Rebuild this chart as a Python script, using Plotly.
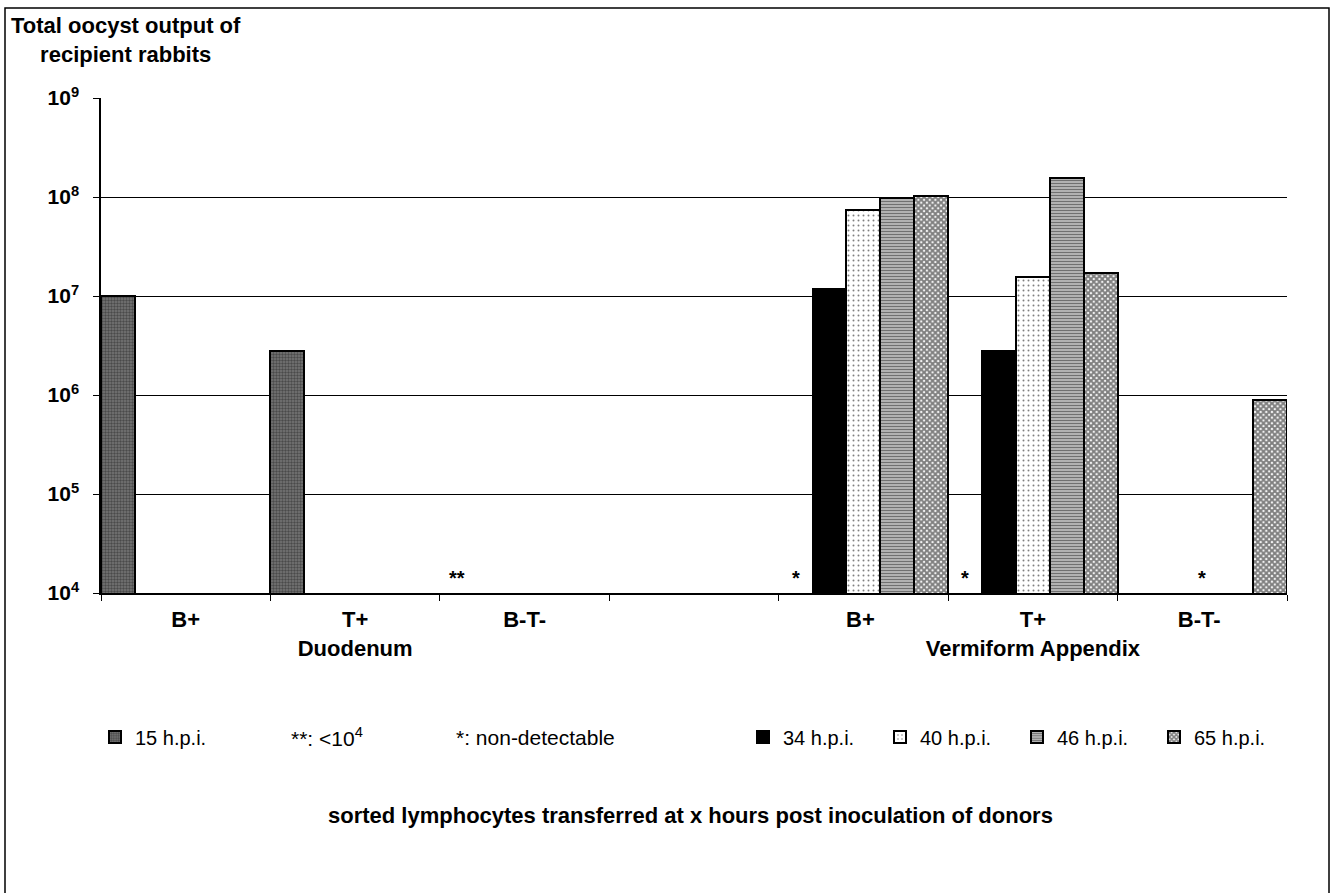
import plotly.graph_objects as go

# ---- data ----
categories = ["B+", "T+<br>Duodenum", "B-T-", " ", "B+ ", "T+<br>Vermiform Appendix", "B-T- "]
series_names = ["15 h.p.i.", "34 h.p.i.", "40 h.p.i.", "46 h.p.i.", "65 h.p.i."]
hpi15 = [1.0e7, 2.8e6, None, None, None, None, None]
hpi34 = [None, None, None, None, 1.18e7, 2.8e6, None]
hpi40 = [None, None, None, None, 7.4e7, 1.55e7, None]
hpi46 = [None, None, None, None, 9.8e7, 1.55e8, None]
hpi65 = [None, None, None, None, 1.03e8, 1.7e7, 8.9e5]
# (category index, series index, mark)
notes = [(2, 0, "**"), (4, 0, "*"), (5, 0, "*"), (6, 2, "*")]
ytick_exps = [4, 5, 6, 7, 8, 9]

FONT = "Liberation Sans, Arial, sans-serif"
W, H = 1331, 893
L, R, T, B = 101, 44, 98, 300
PW, PH = W - L - R, H - T - B

def px(x):
    return (x - L) / PW

def py(y):
    return (T + PH - y) / PH

styles = [
    dict(color="#5a5a5a", pattern=dict(shape=".", fgcolor="#1e1e1e", bgcolor="#777777", size=3, solidity=0.5)),
    dict(color="black"),
    dict(color="white", pattern=dict(shape=".", fgcolor="#000000", bgcolor="#ffffff", size=5, solidity=0.12)),
    dict(color="#cccccc", pattern=dict(shape="-", fgcolor="#111111", bgcolor="#d0d0d0", size=3, solidity=0.55)),
    dict(color="#666666", pattern=dict(shape="x", fgcolor="#000000", bgcolor="#ffffff", size=4, solidity=0.75)),
]

fig = go.Figure()
for i, (name, vals) in enumerate(zip(series_names, [hpi15, hpi34, hpi40, hpi46, hpi65])):
    st = styles[i]
    marker = dict(color=st["color"], line=dict(color="black", width=2))
    if "pattern" in st:
        marker["pattern"] = st["pattern"]
    fig.add_trace(go.Bar(
        x=categories, y=vals, name=name, marker=marker,
        legend="legend" if i == 0 else "legend2", showlegend=True,
    ))

for ci, si, txt in notes:
    fig.add_annotation(x=ci + (si - 2) * 0.2, y=4, yref="y", xref="x", text="<b>" + txt + "</b>",
                       showarrow=False, yanchor="bottom", yshift=2,
                       font=dict(family=FONT, size=20, color="black"))

# title
fig.add_annotation(xref="paper", yref="paper", x=px(126), y=py(40), text="<b>Total oocyst output of<br>recipient rabbits</b>",
                   showarrow=False, align="center", xanchor="center", yanchor="middle",
                   font=dict(family=FONT, size=22, color="black"))
# legend text notes
LEG_Y = 737
fig.add_annotation(xref="paper", yref="paper", x=px(289), y=py(LEG_Y), text="**: <10<sup>4</sup>",
                   showarrow=False, xanchor="left", yanchor="middle",
                   font=dict(family=FONT, size=21, color="black"))
fig.add_annotation(xref="paper", yref="paper", x=px(454), y=py(LEG_Y), text="*: non-detectable",
                   showarrow=False, xanchor="left", yanchor="middle",
                   font=dict(family=FONT, size=21, color="black"))
# bottom caption
fig.add_annotation(xref="paper", yref="paper", x=px(690), y=py(815),
                   text="<b>sorted lymphocytes transferred at x hours post inoculation of donors</b>",
                   showarrow=False, xanchor="center", yanchor="middle",
                   font=dict(family=FONT, size=22, color="black"))

# outer frame
fig.add_shape(type="rect", xref="paper", yref="paper", x0=px(5), x1=px(1329), y0=py(905), y1=py(8),
              line=dict(color="black", width=1.5), fillcolor="rgba(0,0,0,0)", layer="above")

fig.update_layout(
    width=W, height=H,
    margin=dict(l=L, r=R, t=T, b=B, autoexpand=False),
    paper_bgcolor="white", plot_bgcolor="white",
    barmode="group", bargap=0, bargroupgap=0,
    showlegend=True,
    font=dict(family=FONT, size=20, color="black"),
    xaxis=dict(
        type="category", categoryorder="array", categoryarray=categories,
        showline=True, linecolor="black", linewidth=1.5,
        ticks="outside", tickson="boundaries", ticklen=6, tickcolor="black",
        showgrid=False, tickangle=0, automargin=False,
        tickfont=dict(family=FONT, size=22, color="black", weight="bold"),
        ticklabelstandoff=6,
        range=[-0.5, 6.5], fixedrange=True,
    ),
    yaxis=dict(
        type="log", range=[4, 9],
        tickvals=[10 ** e for e in ytick_exps],
        ticktext=["<b>10<sup>%d</sup></b>" % e for e in ytick_exps],
        showline=True, linecolor="black", linewidth=1.5,
        ticks="outside", ticklen=6, tickcolor="black",
        showgrid=True, gridcolor="black", gridwidth=1,
        tickfont=dict(family=FONT, size=21, color="black"),
        ticklabelstandoff=10, zeroline=False, automargin=False,
    ),
    legend=dict(
        orientation="h", x=px(95), y=py(LEG_Y), xanchor="left", yanchor="middle",
        font=dict(family=FONT, size=20, color="black"), bgcolor="rgba(0,0,0,0)",
        itemwidth=30,
    ),
    legend2=dict(
        orientation="h", x=px(743), y=py(LEG_Y), xanchor="left", yanchor="middle",
        font=dict(family=FONT, size=20, color="black"), bgcolor="rgba(0,0,0,0)",
        entrywidth=92, entrywidthmode="pixels", itemwidth=30,
    ),
)

fig.write_html("out.html", config={"displayModeBar": False},
               post_script="document.body.style.margin='0';document.body.style.overflow='hidden';")
